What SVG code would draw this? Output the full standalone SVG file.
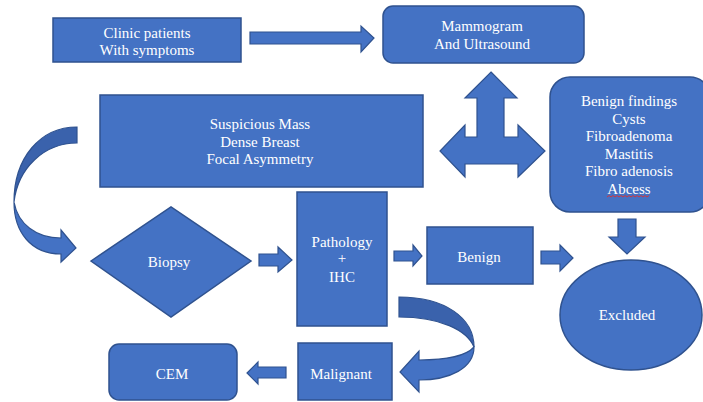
<svg xmlns="http://www.w3.org/2000/svg" width="703" height="402" viewBox="0 0 703 402">
<style>
.n{fill:#4472C4;stroke:#2F528F;stroke-width:1.5}
.a{fill:#4472C4;stroke:#2F528F;stroke-width:1.2;stroke-linejoin:miter}
.d{fill:#3A62AC;stroke:#2F528F;stroke-width:1.2}
text{font-family:"Liberation Serif","Times New Roman",serif;font-size:15px;fill:#FFFFFF;text-anchor:middle}
</style>
<rect width="703" height="402" fill="#FFFFFF"/>
<g id="connectors">
<path class="a" d="M250,32 L361,32 L361,26 L374,38 L361,52 L361,44 L250,44 Z"/>
<path class="a" d="M491,72 L517,98 L504,98 L504,137 L518,137 L518,125 L545,151 L518,177 L518,164 L465,164 L465,177 L440,151 L465,125 L465,137 L477,137 L477,98 L465,98 Z"/>
<path class="d" d="M77,127 C40,127 14,158 14,202 C18,168 44,143 77,143 Z"/>
<path class="a" d="M14,202 C18,224 36,238 61,238 L61,230 L76,248 L61,262 L61,254 C31,254 14,232 14,202 Z"/>
<path class="a" d="M259,254 L278,254 L278,247 L292,260 L278,272 L278,266 L259,266 Z"/>
<path class="a" d="M394,251 L413,251 L413,245 L422,256 L413,266 L413,261 L394,261 Z"/>
<path class="a" d="M541,251 L560,251 L560,245 L573,258 L560,271 L560,264 L541,264 Z"/>
<path class="a" d="M618,219 L636,219 L636,237 L645,237 L627,254 L609,237 L618,237 Z"/>
<path class="d" d="M399,297 C445,297 474,318 474,347 C467,330 440,317 399,317 Z"/>
<path class="a" d="M474,347 C474,368 450,380 419,380 L419,392 L400,372 L419,351 L419,360 C445,360 466,356 474,347 Z"/>
<path class="a" d="M286,367 L258,367 L258,362 L247,373 L258,384 L258,378 L286,378 Z"/>
</g>
<g id="clinic">
<rect class="n" x="53" y="18" width="188" height="44"/>
<text x="147" y="38">Clinic patients</text>
<text x="147" y="55">With symptoms</text>
</g>
<g id="mammogram">
<rect class="n" x="383" y="6" width="201" height="57" rx="10"/>
<text x="482" y="31">Mammogram</text>
<text x="482" y="49">And Ultrasound</text>
</g>
<g id="suspicious">
<rect class="n" x="100" y="95" width="323" height="92"/>
<text x="260" y="129">Suspicious Mass</text>
<text x="260" y="147">Dense Breast</text>
<text x="260" y="164">Focal Asymmetry</text>
</g>
<g id="benign-findings">
<rect class="n" x="550" y="77" width="160" height="135" rx="20"/>
<text x="629" y="106">Benign findings</text>
<text x="629" y="124">Cysts</text>
<text x="629" y="141">Fibroadenoma</text>
<text x="629" y="159">Mastitis</text>
<text x="629" y="176">Fibro adenosis</text>
<text x="629" y="194">Abcess</text>
<path d="M607,197 l2,-1.5 l2,1.5 l2,-1.5 l2,1.5 l2,-1.5 l2,1.5 l2,-1.5 l2,1.5 l2,-1.5 l2,1.5 l2,-1.5 l2,1.5 l2,-1.5 l2,1.5 l2,-1.5 l2,1.5 l2,-1.5 l2,1.5 l2,-1.5 l2,1.5 l2,-1.5" fill="none" stroke="#E03030" stroke-width="0.9"/>
</g>
<g id="biopsy">
<polygon class="n" points="91,261 171,207 251,261 171,317"/>
<text x="169" y="267">Biopsy</text>
</g>
<g id="pathology">
<rect class="n" x="297" y="192" width="90" height="134"/>
<text x="342" y="247">Pathology</text>
<text x="342" y="263">+</text>
<text x="342" y="282">IHC</text>
</g>
<g id="benign">
<rect class="n" x="427" y="227" width="106" height="57"/>
<text x="479" y="262">Benign</text>
</g>
<g id="excluded">
<ellipse class="n" cx="631" cy="315" rx="71" ry="55"/>
<text x="627" y="320">Excluded</text>
</g>
<g id="cem">
<rect class="n" x="109" y="344" width="128" height="56" rx="10"/>
<text x="172" y="379">CEM</text>
</g>
<g id="malignant">
<rect class="n" x="298" y="343" width="94" height="57"/>
<text x="341" y="379">Malignant</text>
</g>
</svg>
